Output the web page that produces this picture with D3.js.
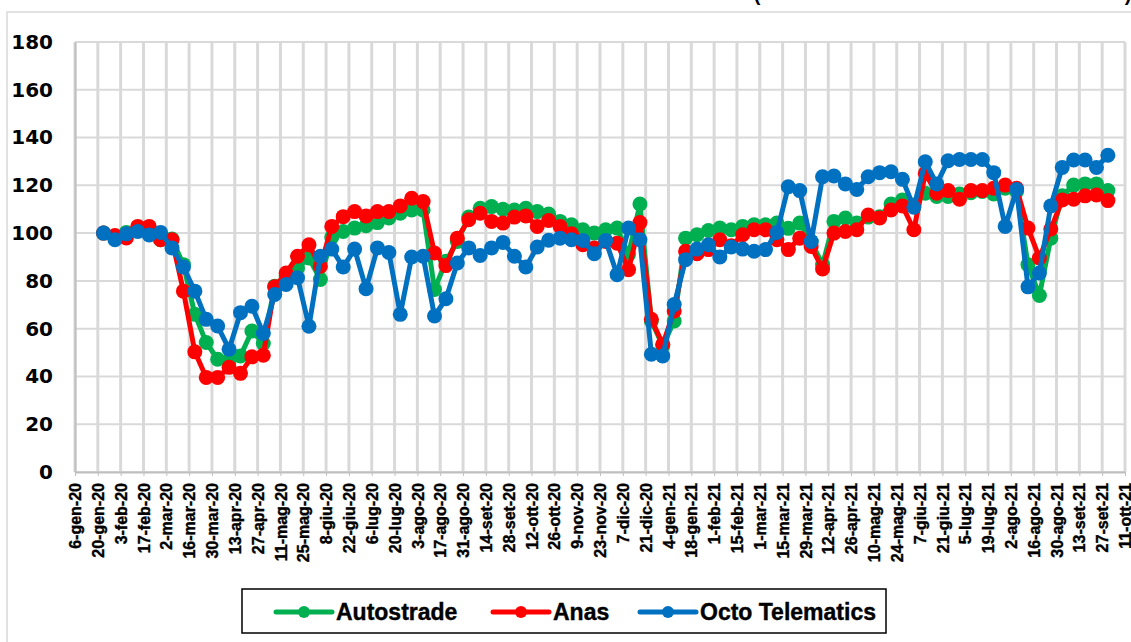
<!DOCTYPE html>
<html>
<head>
<meta charset="utf-8">
<style>
body {margin: 0; background: #fff;}
svg text {fill: #000;}
</style>
<script src="https://d3js.org/d3.v7.min.js"></script>
</head>
<body>
<svg id="vis" width="1131" height="642"></svg>
<script>
// tick labels, one every two weeks
var tickLabels = ["6-gen-20","20-gen-20","3-feb-20","17-feb-20","2-mar-20","16-mar-20","30-mar-20","13-apr-20","27-apr-20",
  "11-mag-20","25-mag-20","8-giu-20","22-giu-20","6-lug-20","20-lug-20","3-ago-20","17-ago-20","31-ago-20","14-set-20",
  "28-set-20","12-ott-20","26-ott-20","9-nov-20","23-nov-20","7-dic-20","21-dic-20","4-gen-21","18-gen-21","1-feb-21",
  "15-feb-21","1-mar-21","15-mar-21","29-mar-21","12-apr-21","26-apr-21","10-mag-21","24-mag-21","7-giu-21","21-giu-21",
  "5-lug-21","19-lug-21","2-ago-21","16-ago-21","30-ago-21","13-set-21","27-set-21","11-ott-21"];

var yTicks = [0, 20, 40, 60, 80, 100, 120, 140, 160, 180];

// weekly values
var autostrade = [100,98,100.3,101,100,97.2,97.5,86.8,66,54.2,47.2,46.5,48.6,59,53.8,77.8,82,85.4,89.6,
  80.6,98.3,100.7,102.1,103.1,104.4,106.3,108.3,109.7,109.7,76.4,88.2,96.5,106.7,110.4,111.1,110,109.7,110.4,109,108,
  104.9,103.5,101.4,100,101.4,102.1,91,112.2,63.2,52.8,63.2,97.9,99.3,101.1,102.1,101.4,102.8,103.5,103.5,104.2,102,
  104.2,96.5,86.8,104.9,106.3,104.2,106.7,106.9,112.2,113.9,111.8,116.7,115.3,115.3,116.4,116.9,117.4,116.4,118.8,117.4,
  86.8,73.9,97.9,115.6,120.1,120.6,120.6,117.8];

var anas = [100,99,98,102.8,102.8,97.2,97.2,75.7,50.3,39.6,39.6,43.8,41.3,48.2,48.9,77.5,83.3,90.3,95.1,
  86.1,102.8,106.9,109,107.2,109,109,111.4,114.6,113.2,91.7,86.4,97.9,105.6,108.3,104.9,104.2,106.7,107.2,102.8,105.3,
  102.8,99.7,95.1,93.8,96.5,95.8,84.7,104.4,63.9,53.5,67.4,92.4,91.4,93.1,97.2,94.7,99.3,101.4,101.4,97.2,93.1,
  97.9,94.4,85,100,100.7,101.4,107.6,106.3,109.7,111.4,101.4,125,116.7,117.8,114.2,117.8,117.8,118.8,120.1,118.8,
  102.1,89.6,101.7,113.9,114.2,115.6,116,113.6];

var octo = [100,97.2,99.7,100.7,99.2,100.3,93.8,85.8,75.7,63.9,61.1,51.4,66.7,69.4,58,74.3,78.5,81.3,61,
  90.3,93.3,85.8,93.3,76.7,93.8,91.9,66,90,90.3,65.3,72.5,87.5,93.8,90.6,93.8,96.1,90.3,85.8,94.2,97,
  97.9,97.2,96.9,91.4,96.9,82.6,102.1,97.2,49.3,48.6,70.1,88.9,93.3,95.1,90,94.2,93.3,92.4,93.1,100.3,119.4,
  117.8,96.5,123.6,123.9,120.6,118.3,123.6,125.3,125.7,122.5,110.8,129.9,120.6,130.3,130.8,130.8,130.8,125.3,102.8,118.3,
  77.5,83.3,111.4,127.5,130.6,130.6,127.5,132.6];

var seriesNames = ["Autostrade", "Anas", "Octo Telematics"];
var seriesColors = ["#00B050", "#FF0000", "#0070C0"];
var seriesData = [autostrade, anas, octo];

var svg = d3.select("#vis");

// outer chart border
svg.append("rect").attr("x", 7).attr("y", 12).attr("width", 1140).attr("height", 700)
  .style("fill", "none").style("stroke", "#D9D9D9").style("stroke-width", 1.5);

// bits of the title cut off at the top
svg.append("text").attr("x", 757).attr("y", 1).text("(")
  .style("font-family", "Liberation Sans").style("font-weight", "bold").style("font-size", "20px").attr("text-anchor", "middle");
svg.append("text").attr("x", 1128).attr("y", 1).text(")")
  .style("font-family", "Liberation Sans").style("font-weight", "bold").style("font-size", "20px").attr("text-anchor", "middle");

var nWeeks = (tickLabels.length - 1) * 2;
var x = d3.scaleLinear().domain([0, nWeeks]).range([75, 1125]);
var y = d3.scaleLinear().domain([0, 180]).range([472, 42]);
var firstWeek = 2.5; // first reading sits mid-way in the third week

// gridlines
svg.append("g").selectAll("line.v")
  .data(tickLabels)
  .enter().append("line")
    .attr("x1", function(d, i) { return x(i * 2); })
    .attr("x2", function(d, i) { return x(i * 2); })
    .attr("y1", y(180)).attr("y2", y(0))
    .style("stroke", "#D9D9D9").style("stroke-width", 3);

svg.append("g").selectAll("line.h")
  .data(yTicks)
  .enter().append("line")
    .attr("x1", x(0)).attr("x2", x(nWeeks))
    .attr("y1", function(d) { return y(d); })
    .attr("y2", function(d) { return y(d); })
    .style("stroke", "#D9D9D9").style("stroke-width", 2);

// axes
var yAxis = svg.append("g").attr("transform", "translate(" + x(0) + ",0)")
  .call(d3.axisLeft(y).tickValues(yTicks).tickSize(0).tickPadding(22));
yAxis.select(".domain").style("stroke", "#BFBFBF").style("stroke-width", 2);
yAxis.selectAll("text").style("font-family", "DejaVu Sans").style("font-weight", "bold").style("font-size", "20px");

var xAxis = svg.append("g").attr("transform", "translate(0," + y(0) + ")")
  .call(d3.axisBottom(x).tickValues(d3.range(0, nWeeks + 1, 2))
    .tickFormat(function(d) { return tickLabels[d / 2]; })
    .tickSize(4).tickSizeOuter(0));
xAxis.select(".domain").style("stroke", "#BFBFBF").style("stroke-width", 2);
xAxis.selectAll("line").style("stroke", "#BFBFBF");
xAxis.selectAll("text")
  .attr("transform", "rotate(-90)")
  .attr("x", -11).attr("y", 0).attr("dy", "0.35em")
  .style("text-anchor", "end")
  .style("font-family", "Liberation Sans").style("font-weight", "bold").style("font-size", "16px")
  .style("stroke", "#000").style("stroke-width", 0.4);

// series
var line = d3.line()
  .x(function(d, i) { return x(firstWeek + i); })
  .y(function(d) { return y(d); });

seriesData.forEach(function(vals, k) {
  var g = svg.append("g");
  g.append("path").datum(vals)
    .attr("d", line)
    .style("fill", "none").style("stroke", seriesColors[k]).style("stroke-width", 5)
    .style("stroke-linejoin", "round");
  g.selectAll("circle").data(vals)
    .enter().append("circle")
      .attr("cx", function(d, i) { return x(firstWeek + i); })
      .attr("cy", function(d) { return y(d); })
      .attr("r", 7.5)
      .style("fill", seriesColors[k]);
});

// legend
svg.append("rect").attr("x", 242).attr("y", 589).attr("width", 644).attr("height", 44)
  .style("fill", "#fff").style("stroke", "#000").style("stroke-width", 1.5);

var legendX = [276, 493, 640];
var leg = svg.append("g").selectAll("g")
  .data(seriesNames)
  .enter().append("g")
    .attr("transform", function(d, i) { return "translate(" + legendX[i] + ",612)"; });
leg.append("line").attr("x1", 0).attr("x2", 56).attr("y1", 0).attr("y2", 0)
  .style("stroke", function(d, i) { return seriesColors[i]; }).style("stroke-width", 5)
  .style("stroke-linecap", "round");
leg.append("circle").attr("cx", 28).attr("cy", 0).attr("r", 6)
  .style("fill", function(d, i) { return seriesColors[i]; });
leg.append("text").attr("x", 60).attr("y", 7.5).text(function(d) { return d; })
  .style("font-family", "Liberation Sans").style("font-weight", "bold").style("font-size", "23px")
  .style("stroke", "#000").style("stroke-width", 0.4);
</script>
</body>
</html>
